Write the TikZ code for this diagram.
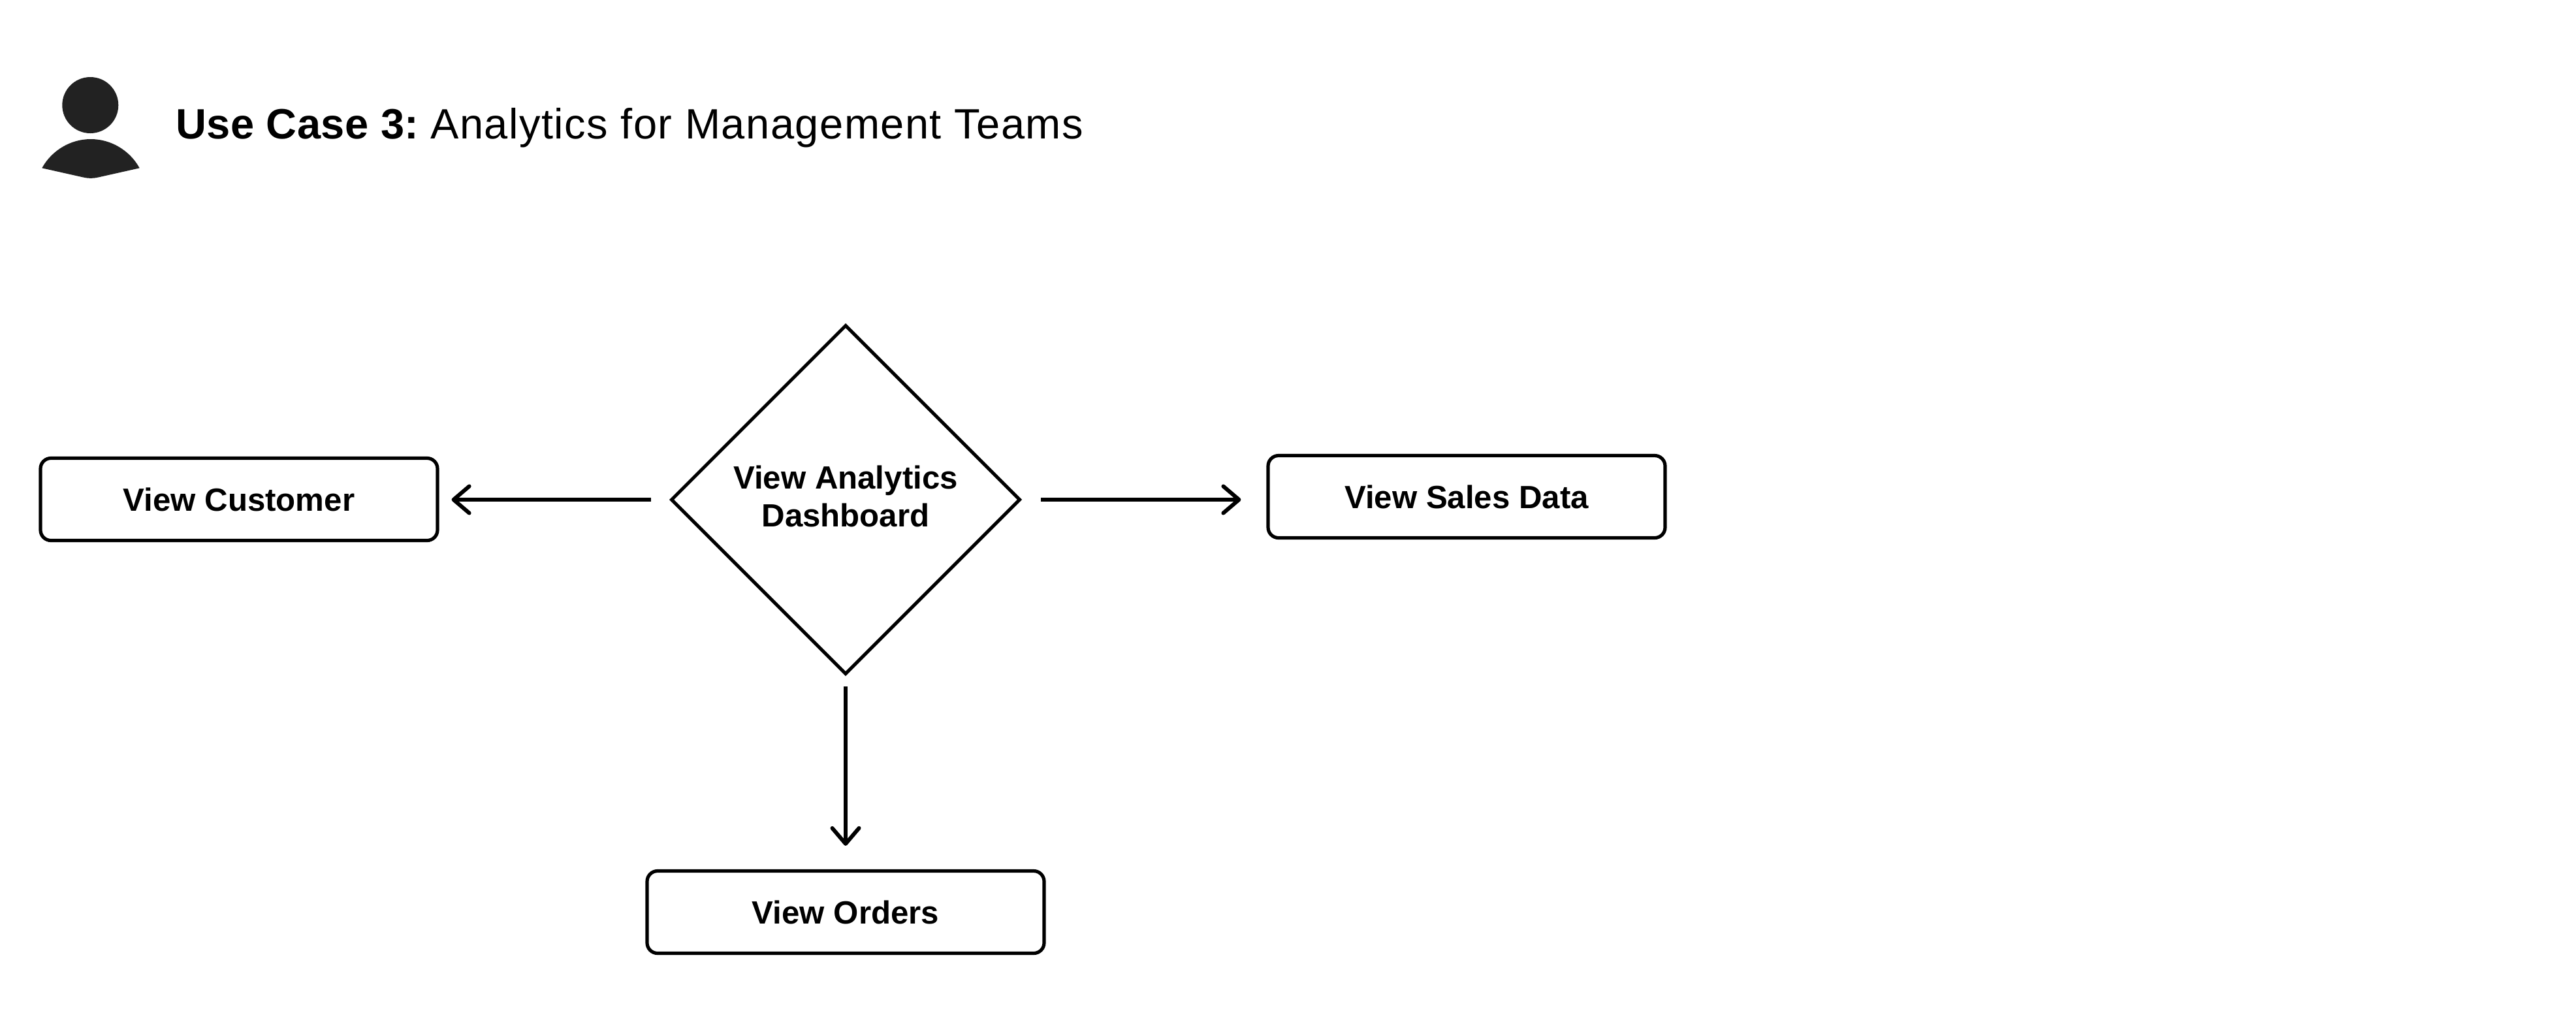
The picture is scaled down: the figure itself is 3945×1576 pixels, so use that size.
\documentclass[tikz,border=0pt]{standalone}
\usepackage{fontspec}
\setmainfont{Liberation Sans}
\usetikzlibrary{shapes.geometric,arrows.meta}
\tikzset{
  x=0.5pt,y=-0.5pt,
  ink/.style={line width=2.6pt,draw=black},
  actionbox/.style={ink,rounded corners=8pt,minimum width=304pt,minimum height=63pt,inner sep=0pt,font=\fontsize{24.6}{28}\selectfont\bfseries,align=center},
  decision/.style={draw=black,line width=2.5pt,diamond,shape aspect=1,minimum width=267.5pt,minimum height=267.5pt,inner sep=0pt},
  decisiontext/.style={font=\fontsize{24.6}{29}\selectfont\bfseries,align=center,inner sep=0pt,yshift=2.4pt},
  flow/.style={line width=3.1pt,draw=black,-{Straight Barb[length=12pt,width=20.5pt,line width=3pt,line cap=round,round]}},
  figure/.style={fill=figureink,draw=none},
  titletext/.style={anchor=base west,inner sep=0pt,font=\fontsize{32.5}{38}\selectfont},
}
\definecolor{figureink}{HTML}{222222}
\begin{document}
\begin{tikzpicture}
\useasboundingbox[fill=white] (0,0) rectangle (3945,1576);
\fill[figure] (138.3,161) circle[radius=43];
\fill[figure] (64.3,257.3) .. controls (79.3,230.2) and (108,213) .. (139,213) .. controls (170,213) and (198.7,230.2) .. (213.7,257.3) -- (150,271.6) .. controls (143,273.3) and (135,273.3) .. (128,271.6) -- cycle;
\node[titletext] (title) at (269,212) {{\bfseries\addfontfeature{LetterSpace=0.7}Use Case 3:} \kern-3.2pt{\addfontfeature{LetterSpace=2.3}Analytics for Management Teams}};
\node[decision,label={[decisiontext]center:View Analytics\\Dashboard}] (dash) at (1295,765) {};
\node[actionbox] (customer) at (366,764.5) {View Customer};
\node[actionbox] (sales) at (2246,760.5) {View Sales Data};
\node[actionbox] (orders) at (1295,1396.5) {View Orders};
\draw[flow,shorten <=14pt,shorten >=9.5pt] (dash.west) -- (customer.east |- dash.west);
\draw[flow,shorten <=14.5pt,shorten >=19.5pt] (dash.east) -- (sales.west |- dash.east);
\draw[flow,shorten <=8pt,shorten >=18pt] (dash.south) -- (orders.north);
\end{tikzpicture}
\end{document}
